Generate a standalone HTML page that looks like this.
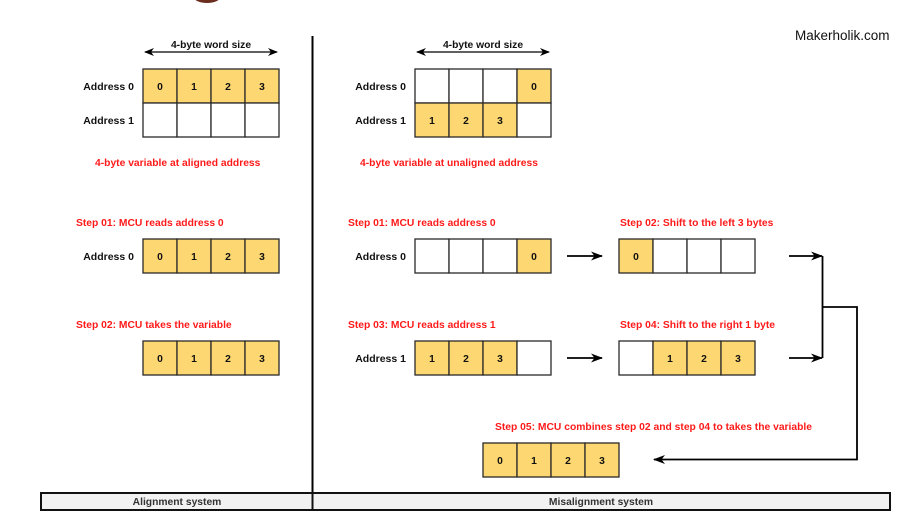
<!DOCTYPE html>
<html><head><meta charset="utf-8"><style>
html,body{margin:0;padding:0;background:#fff;}
svg{display:block;font-family:"Liberation Sans",Arial,sans-serif;font-weight:bold;}
.c{stroke:#2a2a2a;stroke-width:1.3;}
.y{fill:#fdd771;}
.w{fill:#fff;}
.n{font-size:10.3px;fill:#111;text-anchor:middle;}
.l{font-size:10.5px;fill:#111;text-anchor:end;}
.r{font-size:10.3px;fill:#ff1a1a;}
</style></head><body>
<svg width="910" height="519" viewBox="0 0 910 519" xmlns="http://www.w3.org/2000/svg">
<defs>
<marker id="a" markerWidth="12" markerHeight="10" refX="11" refY="5" orient="auto" markerUnits="userSpaceOnUse"><path d="M0,0.5 L12,5 L0,9.5 L3.5,5 Z" fill="#000"/></marker>
<marker id="s" markerWidth="12" markerHeight="10" refX="1" refY="5" orient="auto" markerUnits="userSpaceOnUse"><path d="M12,0.5 L0,5 L12,9.5 L8.5,5 Z" fill="#000"/></marker>
<marker id="b" markerWidth="10" markerHeight="10" refX="9" refY="5" orient="auto" markerUnits="userSpaceOnUse"><path d="M0,1 L10,5 L0,9 L3,5 Z" fill="#000"/></marker>
<marker id="bs" markerWidth="10" markerHeight="10" refX="1" refY="5" orient="auto" markerUnits="userSpaceOnUse"><path d="M10,1 L0,5 L10,9 L7,5 Z" fill="#000"/></marker>
</defs>
<ellipse cx="207" cy="-4" rx="14" ry="7" fill="#6b2d1e"/>
<line x1="312.5" y1="36" x2="312.5" y2="494" stroke="#000" stroke-width="2"/>
<text x="795" y="40" style="font-weight:normal;font-size:13.5px;fill:#111">Makerholik.com</text>

<!-- LEFT -->
<line x1="145" y1="52" x2="277" y2="52" stroke="#000" stroke-width="1.2" marker-start="url(#bs)" marker-end="url(#b)"/>
<text x="211" y="48" class="n">4-byte word size</text>
<text x="134" y="90" class="l">Address 0</text>
<text x="134" y="124" class="l">Address 1</text>
<rect x="143" y="69" width="34" height="34" class="y c"/><rect x="177" y="69" width="34" height="34" class="y c"/><rect x="211" y="69" width="34" height="34" class="y c"/><rect x="245" y="69" width="34" height="34" class="y c"/>
<rect x="143" y="103" width="34" height="34" class="w c"/><rect x="177" y="103" width="34" height="34" class="w c"/><rect x="211" y="103" width="34" height="34" class="w c"/><rect x="245" y="103" width="34" height="34" class="w c"/>
<text x="160" y="90" class="n">0</text><text x="194" y="90" class="n">1</text><text x="228" y="90" class="n">2</text><text x="262" y="90" class="n">3</text>
<text x="95" y="166" class="r">4-byte variable at aligned address</text>

<text x="76" y="226" class="r">Step 01: MCU reads address 0</text>
<text x="134" y="260" class="l">Address 0</text>
<rect x="143" y="239" width="34" height="34" class="y c"/><rect x="177" y="239" width="34" height="34" class="y c"/><rect x="211" y="239" width="34" height="34" class="y c"/><rect x="245" y="239" width="34" height="34" class="y c"/>
<text x="160" y="260" class="n">0</text><text x="194" y="260" class="n">1</text><text x="228" y="260" class="n">2</text><text x="262" y="260" class="n">3</text>

<text x="76" y="328" class="r">Step 02: MCU takes the variable</text>
<rect x="143" y="341" width="34" height="34" class="y c"/><rect x="177" y="341" width="34" height="34" class="y c"/><rect x="211" y="341" width="34" height="34" class="y c"/><rect x="245" y="341" width="34" height="34" class="y c"/>
<text x="160" y="362" class="n">0</text><text x="194" y="362" class="n">1</text><text x="228" y="362" class="n">2</text><text x="262" y="362" class="n">3</text>

<!-- RIGHT -->
<line x1="417" y1="52" x2="549" y2="52" stroke="#000" stroke-width="1.2" marker-start="url(#bs)" marker-end="url(#b)"/>
<text x="483" y="48" class="n">4-byte word size</text>
<text x="406" y="90" class="l">Address 0</text>
<text x="406" y="124" class="l">Address 1</text>
<rect x="415" y="69" width="34" height="34" class="w c"/><rect x="449" y="69" width="34" height="34" class="w c"/><rect x="483" y="69" width="34" height="34" class="w c"/><rect x="517" y="69" width="34" height="34" class="y c"/>
<rect x="415" y="103" width="34" height="34" class="y c"/><rect x="449" y="103" width="34" height="34" class="y c"/><rect x="483" y="103" width="34" height="34" class="y c"/><rect x="517" y="103" width="34" height="34" class="w c"/>
<text x="534" y="90" class="n">0</text>
<text x="432" y="124" class="n">1</text><text x="466" y="124" class="n">2</text><text x="500" y="124" class="n">3</text>
<text x="360" y="166" class="r">4-byte variable at unaligned address</text>

<text x="348" y="226" class="r">Step 01: MCU reads address 0</text>
<text x="406" y="260" class="l">Address 0</text>
<rect x="415" y="239" width="34" height="34" class="w c"/><rect x="449" y="239" width="34" height="34" class="w c"/><rect x="483" y="239" width="34" height="34" class="w c"/><rect x="517" y="239" width="34" height="34" class="y c"/>
<text x="534" y="260" class="n">0</text>

<text x="620" y="226" class="r">Step 02: Shift to the left 3 bytes</text>
<rect x="619" y="239" width="34" height="34" class="y c"/><rect x="653" y="239" width="34" height="34" class="w c"/><rect x="687" y="239" width="34" height="34" class="w c"/><rect x="721" y="239" width="34" height="34" class="w c"/>
<text x="636" y="260" class="n">0</text>

<text x="348" y="328" class="r">Step 03: MCU reads address 1</text>
<text x="406" y="362" class="l">Address 1</text>
<rect x="415" y="341" width="34" height="34" class="y c"/><rect x="449" y="341" width="34" height="34" class="y c"/><rect x="483" y="341" width="34" height="34" class="y c"/><rect x="517" y="341" width="34" height="34" class="w c"/>
<text x="432" y="362" class="n">1</text><text x="466" y="362" class="n">2</text><text x="500" y="362" class="n">3</text>

<text x="620" y="328" class="r">Step 04: Shift to the right 1 byte</text>
<rect x="619" y="341" width="34" height="34" class="w c"/><rect x="653" y="341" width="34" height="34" class="y c"/><rect x="687" y="341" width="34" height="34" class="y c"/><rect x="721" y="341" width="34" height="34" class="y c"/>
<text x="670" y="362" class="n">1</text><text x="704" y="362" class="n">2</text><text x="738" y="362" class="n">3</text>

<text x="495" y="430" class="r">Step 05: MCU combines step 02 and step 04 to takes the variable</text>
<rect x="483" y="443" width="34" height="34" class="y c"/><rect x="517" y="443" width="34" height="34" class="y c"/><rect x="551" y="443" width="34" height="34" class="y c"/><rect x="585" y="443" width="34" height="34" class="y c"/>
<text x="500" y="464" class="n">0</text><text x="534" y="464" class="n">1</text><text x="568" y="464" class="n">2</text><text x="602" y="464" class="n">3</text>

<g stroke="#000" stroke-width="1.8" fill="none">
<line x1="567" y1="256" x2="602" y2="256" marker-end="url(#a)"/>
<line x1="567" y1="358" x2="602" y2="358" marker-end="url(#a)"/>
<line x1="789" y1="256" x2="822" y2="256" marker-end="url(#a)"/>
<line x1="789" y1="358" x2="822" y2="358" marker-end="url(#a)"/>
<line x1="822.5" y1="256" x2="822.5" y2="358"/>
<polyline points="822,307 857,307 857,459.5 654,459.5" marker-end="url(#a)"/>
</g>

<rect x="41" y="493" width="849" height="17" fill="#f2f2f2" stroke="#111" stroke-width="2"/>
<line x1="312.5" y1="493" x2="312.5" y2="510" stroke="#111" stroke-width="2"/>
<text x="177" y="505" class="n" style="fill:#333">Alignment system</text>
<text x="601" y="505" class="n" style="fill:#333">Misalignment system</text>
</svg>
</body></html>
